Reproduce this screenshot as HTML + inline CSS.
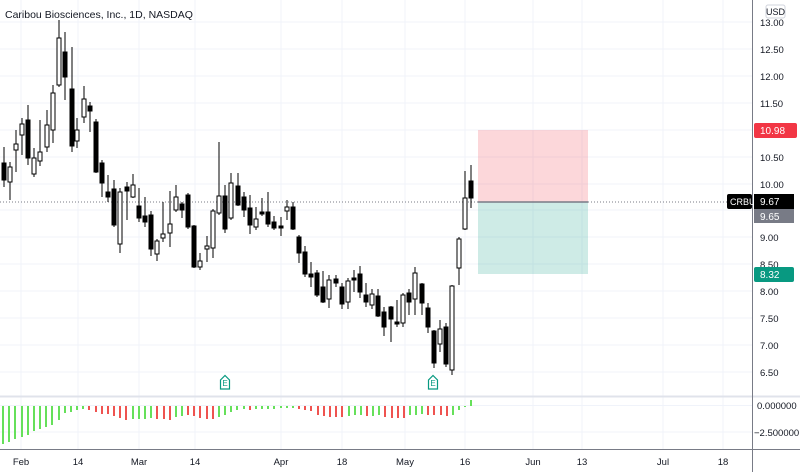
<!DOCTYPE html>
<html><head><meta charset="utf-8"><style>
html,body{margin:0;padding:0;background:#fff;}
svg{display:block;font-family:"Liberation Sans",sans-serif;}
</style></head><body>
<svg width="800" height="472" viewBox="0 0 800 472" xmlns="http://www.w3.org/2000/svg">
<rect width="800" height="472" fill="#fff"/>
<g stroke="#f0f3fa" stroke-width="1">
<line x1="21" y1="0" x2="21" y2="449"/><line x1="78" y1="0" x2="78" y2="449"/><line x1="139" y1="0" x2="139" y2="449"/><line x1="195" y1="0" x2="195" y2="449"/><line x1="281" y1="0" x2="281" y2="449"/><line x1="342" y1="0" x2="342" y2="449"/><line x1="405" y1="0" x2="405" y2="449"/><line x1="465" y1="0" x2="465" y2="449"/><line x1="533" y1="0" x2="533" y2="449"/><line x1="582" y1="0" x2="582" y2="449"/><line x1="663" y1="0" x2="663" y2="449"/><line x1="723" y1="0" x2="723" y2="449"/>
<line x1="0" y1="22" x2="752" y2="22"/><line x1="0" y1="49" x2="752" y2="49"/><line x1="0" y1="76" x2="752" y2="76"/><line x1="0" y1="103" x2="752" y2="103"/><line x1="0" y1="130" x2="752" y2="130"/><line x1="0" y1="157" x2="752" y2="157"/><line x1="0" y1="184" x2="752" y2="184"/><line x1="0" y1="210" x2="752" y2="210"/><line x1="0" y1="237" x2="752" y2="237"/><line x1="0" y1="264" x2="752" y2="264"/><line x1="0" y1="291" x2="752" y2="291"/><line x1="0" y1="318" x2="752" y2="318"/><line x1="0" y1="345" x2="752" y2="345"/><line x1="0" y1="372" x2="752" y2="372"/>
<line x1="0" y1="432" x2="752" y2="432"/>
</g>
<rect x="478" y="130" width="110" height="72" fill="#f23645" fill-opacity="0.2"/>
<rect x="478" y="202" width="110" height="72" fill="#089981" fill-opacity="0.2"/>
<line x1="0" y1="202" x2="752" y2="202" stroke="#787b86" stroke-width="1" stroke-dasharray="1,2"/>
<line x1="478" y1="202" x2="588" y2="202" stroke="#787b86" stroke-width="1.5"/>
<line x1="0" y1="396.5" x2="800" y2="396.5" stroke="#e0e3eb" stroke-width="2"/>
<line x1="0" y1="405.5" x2="752" y2="405.5" stroke="#f0f3fa"/>
<line x1="752.5" y1="0" x2="752.5" y2="472" stroke="#787b86"/>
<line x1="0" y1="449.5" x2="800" y2="449.5" stroke="#787b86"/>
<g stroke="#000" stroke-width="1">
<line x1="4" y1="147" x2="4" y2="187"/><rect x="2" y="163" width="4" height="17" fill="#000"/>
<line x1="10" y1="162" x2="10" y2="200"/><rect x="8" y="167" width="4" height="15" fill="#fff"/>
<line x1="16" y1="130" x2="16" y2="172"/><rect x="14" y="144" width="4" height="6" fill="#fff"/>
<line x1="22" y1="118" x2="22" y2="155"/><rect x="20" y="124" width="4" height="11" fill="#fff"/>
<line x1="28" y1="105" x2="28" y2="165"/><rect x="26" y="120" width="4" height="38" fill="#000"/>
<line x1="34" y1="148" x2="34" y2="177"/><rect x="32" y="158" width="4" height="16" fill="#fff"/>
<line x1="40" y1="120" x2="40" y2="166"/><rect x="38" y="152" width="4" height="9" fill="#fff"/>
<line x1="47" y1="110" x2="47" y2="152"/><rect x="45" y="125" width="4" height="22" fill="#fff"/>
<line x1="53" y1="85" x2="53" y2="143"/><rect x="51" y="93" width="4" height="37" fill="#fff"/>
<line x1="59" y1="20" x2="59" y2="87"/><rect x="57" y="38" width="4" height="47" fill="#fff"/>
<line x1="65" y1="32" x2="65" y2="100"/><rect x="63" y="52" width="4" height="25" fill="#000"/>
<line x1="72" y1="47" x2="72" y2="152"/><rect x="70" y="89" width="4" height="57" fill="#000"/>
<line x1="77" y1="118" x2="77" y2="148"/><rect x="75" y="130" width="4" height="11" fill="#fff"/>
<line x1="84" y1="86" x2="84" y2="123"/><rect x="82" y="99" width="4" height="18" fill="#fff"/>
<line x1="90" y1="102" x2="90" y2="132"/><rect x="88" y="106" width="4" height="5" fill="#000"/>
<line x1="96" y1="119" x2="96" y2="173"/><rect x="94" y="122" width="4" height="50" fill="#000"/>
<line x1="102" y1="160" x2="102" y2="197"/><rect x="100" y="163" width="4" height="20" fill="#000"/>
<line x1="108" y1="175" x2="108" y2="202"/><rect x="106" y="192" width="4" height="5" fill="#000"/>
<line x1="114" y1="180" x2="114" y2="227"/><rect x="112" y="189" width="4" height="36" fill="#000"/>
<line x1="120" y1="188" x2="120" y2="253"/><rect x="118" y="192" width="4" height="52" fill="#fff"/>
<line x1="127" y1="182" x2="127" y2="220"/><rect x="125" y="187" width="4" height="4" fill="#000"/>
<line x1="133" y1="174" x2="133" y2="198"/><rect x="131" y="185" width="4" height="12" fill="#fff"/>
<line x1="139" y1="188" x2="139" y2="222"/><rect x="137" y="206" width="4" height="12" fill="#000"/>
<line x1="145" y1="197" x2="145" y2="227"/><rect x="143" y="216" width="4" height="6" fill="#000"/>
<line x1="151" y1="211" x2="151" y2="256"/><rect x="149" y="215" width="4" height="34" fill="#000"/>
<line x1="157" y1="239" x2="157" y2="261"/><rect x="155" y="241" width="4" height="13" fill="#fff"/>
<line x1="163" y1="202" x2="163" y2="242"/><rect x="161" y="234" width="4" height="4" fill="#fff"/>
<line x1="170" y1="191" x2="170" y2="247"/><rect x="168" y="224" width="4" height="9" fill="#fff"/>
<line x1="176" y1="185" x2="176" y2="212"/><rect x="174" y="197" width="4" height="13" fill="#fff"/>
<line x1="182" y1="202" x2="182" y2="218"/><rect x="180" y="204" width="4" height="6" fill="#000"/>
<line x1="188" y1="193" x2="188" y2="229"/><rect x="186" y="195" width="4" height="32" fill="#000"/>
<line x1="194" y1="225" x2="194" y2="268"/><rect x="192" y="226" width="4" height="41" fill="#000"/>
<line x1="200" y1="253" x2="200" y2="270"/><rect x="198" y="261" width="4" height="6" fill="#fff"/>
<line x1="207" y1="236" x2="207" y2="262"/><rect x="205" y="246" width="4" height="3" fill="#fff"/>
<line x1="213" y1="209" x2="213" y2="258"/><rect x="211" y="211" width="4" height="37" fill="#fff"/>
<line x1="219" y1="142" x2="219" y2="215"/><rect x="217" y="196" width="4" height="17" fill="#fff"/>
<line x1="225" y1="185" x2="225" y2="233"/><rect x="223" y="196" width="4" height="33" fill="#000"/>
<line x1="231" y1="173" x2="231" y2="220"/><rect x="229" y="183" width="4" height="35" fill="#fff"/>
<line x1="238" y1="173" x2="238" y2="206"/><rect x="236" y="186" width="4" height="19" fill="#000"/>
<line x1="244" y1="192" x2="244" y2="217"/><rect x="242" y="197" width="4" height="13" fill="#000"/>
<line x1="250" y1="195" x2="250" y2="234"/><rect x="248" y="208" width="4" height="17" fill="#000"/>
<line x1="256" y1="207" x2="256" y2="230"/><rect x="254" y="219" width="4" height="8" fill="#fff"/>
<line x1="262" y1="198" x2="262" y2="216"/><rect x="260" y="212" width="4" height="2" fill="#000"/>
<line x1="268" y1="192" x2="268" y2="227"/><rect x="266" y="212" width="4" height="12" fill="#000"/>
<line x1="274" y1="216" x2="274" y2="230"/><rect x="272" y="222" width="4" height="6" fill="#000"/>
<line x1="281" y1="217" x2="281" y2="236"/><rect x="279" y="226" width="4" height="2" fill="#000"/>
<line x1="287" y1="200" x2="287" y2="220"/><rect x="285" y="207" width="4" height="4" fill="#fff"/>
<line x1="293" y1="202" x2="293" y2="230"/><rect x="291" y="207" width="4" height="22" fill="#000"/>
<line x1="299" y1="235" x2="299" y2="263"/><rect x="297" y="237" width="4" height="16" fill="#000"/>
<line x1="305" y1="246" x2="305" y2="277"/><rect x="303" y="252" width="4" height="22" fill="#000"/>
<line x1="311" y1="262" x2="311" y2="287"/><rect x="309" y="274" width="4" height="3" fill="#000"/>
<line x1="317" y1="270" x2="317" y2="297"/><rect x="315" y="273" width="4" height="22" fill="#000"/>
<line x1="323" y1="271" x2="323" y2="303"/><rect x="321" y="287" width="4" height="15" fill="#000"/>
<line x1="329" y1="275" x2="329" y2="308"/><rect x="327" y="280" width="4" height="19" fill="#fff"/>
<line x1="336" y1="275" x2="336" y2="287"/><rect x="334" y="279" width="4" height="4" fill="#000"/>
<line x1="342" y1="283" x2="342" y2="309"/><rect x="340" y="287" width="4" height="17" fill="#000"/>
<line x1="348" y1="278" x2="348" y2="309"/><rect x="346" y="281" width="4" height="21" fill="#fff"/>
<line x1="354" y1="270" x2="354" y2="292"/><rect x="352" y="278" width="4" height="2" fill="#000"/>
<line x1="360" y1="266" x2="360" y2="298"/><rect x="358" y="274" width="4" height="18" fill="#000"/>
<line x1="366" y1="283" x2="366" y2="307"/><rect x="364" y="295" width="4" height="7" fill="#000"/>
<line x1="372" y1="289" x2="372" y2="309"/><rect x="370" y="294" width="4" height="11" fill="#fff"/>
<line x1="378" y1="289" x2="378" y2="317"/><rect x="376" y="296" width="4" height="20" fill="#000"/>
<line x1="384" y1="307" x2="384" y2="336"/><rect x="382" y="312" width="4" height="15" fill="#000"/>
<line x1="391" y1="306" x2="391" y2="342"/><rect x="389" y="307" width="4" height="12" fill="#000"/>
<line x1="397" y1="300" x2="397" y2="327"/><rect x="395" y="322" width="4" height="2" fill="#000"/>
<line x1="403" y1="293" x2="403" y2="327"/><rect x="401" y="295" width="4" height="28" fill="#fff"/>
<line x1="409" y1="289" x2="409" y2="315"/><rect x="407" y="293" width="4" height="9" fill="#000"/>
<line x1="415" y1="267" x2="415" y2="315"/><rect x="413" y="273" width="4" height="26" fill="#fff"/>
<line x1="422" y1="283" x2="422" y2="315"/><rect x="420" y="284" width="4" height="19" fill="#000"/>
<line x1="428" y1="303" x2="428" y2="333"/><rect x="426" y="308" width="4" height="19" fill="#000"/>
<line x1="434" y1="330" x2="434" y2="368"/><rect x="432" y="331" width="4" height="32" fill="#000"/>
<line x1="440" y1="320" x2="440" y2="352"/><rect x="438" y="329" width="4" height="15" fill="#fff"/>
<line x1="446" y1="323" x2="446" y2="367"/><rect x="444" y="327" width="4" height="37" fill="#000"/>
<line x1="452" y1="285" x2="452" y2="375"/><rect x="450" y="286" width="4" height="84" fill="#fff"/>
<line x1="459" y1="237" x2="459" y2="285"/><rect x="457" y="239" width="4" height="29" fill="#fff"/>
<line x1="465" y1="171" x2="465" y2="230"/><rect x="463" y="198" width="4" height="31" fill="#fff"/>
<line x1="471" y1="165" x2="471" y2="208"/><rect x="469" y="181" width="4" height="17" fill="#000"/>
</g>
<g fill="#fff" stroke="#089981" stroke-width="1.2">
<path d="M220.5 389 V380 L225 375.5 L229.5 380 V389 Z"/>
<path d="M428.5 389 V380 L433 375.5 L437.5 380 V389 Z"/>
</g>
<g font-size="8" fill="#089981" text-anchor="middle"><text x="225" y="386">E</text><text x="433" y="386">E</text></g>
<g fill="#66e05a">
<rect x="2" y="406" width="2" height="38"/><rect x="8" y="406" width="2" height="36"/><rect x="14" y="406" width="2" height="33"/><rect x="21" y="406" width="2" height="31"/><rect x="27" y="406" width="2" height="29"/><rect x="33" y="406" width="2" height="25"/><rect x="39" y="406" width="2" height="23"/><rect x="45" y="406" width="2" height="21"/><rect x="51" y="406" width="2" height="19"/><rect x="58" y="406" width="2" height="14"/><rect x="64" y="406" width="2" height="7"/><rect x="70" y="406" width="2" height="6"/><rect x="76" y="406" width="2" height="4"/><rect x="82" y="406" width="2" height="3"/>
<rect x="132" y="406" width="2" height="13"/><rect x="138" y="406" width="2" height="13"/><rect x="144" y="406" width="2" height="13"/><rect x="150" y="406" width="2" height="12"/>
<rect x="175" y="406" width="2" height="11"/><rect x="181" y="406" width="2" height="10"/>
<rect x="218" y="406" width="2" height="11"/><rect x="224" y="406" width="2" height="9"/><rect x="230" y="406" width="2" height="6"/><rect x="236" y="406" width="2" height="4"/><rect x="243" y="406" width="2" height="3"/>
<rect x="255" y="406" width="2" height="3"/><rect x="261" y="406" width="2" height="3"/><rect x="267" y="406" width="2" height="3"/><rect x="273" y="406" width="2" height="3"/><rect x="280" y="406" width="2" height="2"/><rect x="286" y="406" width="2" height="2"/><rect x="292" y="406" width="2" height="2"/>
<rect x="348" y="406" width="2" height="10"/><rect x="354" y="406" width="2" height="9"/><rect x="360" y="406" width="2" height="9"/>
<rect x="372" y="406" width="2" height="10"/><rect x="378" y="406" width="2" height="9"/>
<rect x="409" y="406" width="2" height="9"/><rect x="415" y="406" width="2" height="9"/><rect x="421" y="406" width="2" height="8"/>
<rect x="452" y="406" width="2" height="9"/><rect x="458" y="406" width="2" height="4"/><rect x="464" y="406" width="2" height="1"/><rect x="470" y="400" width="2" height="6"/>
</g>
<g fill="#ef5350">
<rect x="88" y="406" width="2" height="4"/><rect x="95" y="406" width="2" height="6"/><rect x="101" y="406" width="2" height="8"/><rect x="107" y="406" width="2" height="8"/><rect x="113" y="406" width="2" height="10"/><rect x="119" y="406" width="2" height="12"/><rect x="125" y="406" width="2" height="14"/>
<rect x="156" y="406" width="2" height="13"/><rect x="163" y="406" width="2" height="13"/><rect x="169" y="406" width="2" height="14"/>
<rect x="187" y="406" width="2" height="9"/><rect x="193" y="406" width="2" height="10"/><rect x="199" y="406" width="2" height="12"/><rect x="206" y="406" width="2" height="13"/><rect x="212" y="406" width="2" height="13"/>
<rect x="249" y="406" width="2" height="4"/>
<rect x="298" y="406" width="2" height="3"/><rect x="304" y="406" width="2" height="4"/><rect x="310" y="406" width="2" height="5"/><rect x="317" y="406" width="2" height="9"/><rect x="323" y="406" width="2" height="10"/><rect x="329" y="406" width="2" height="11"/><rect x="335" y="406" width="2" height="11"/><rect x="341" y="406" width="2" height="11"/>
<rect x="366" y="406" width="2" height="10"/>
<rect x="384" y="406" width="2" height="11"/><rect x="391" y="406" width="2" height="12"/><rect x="397" y="406" width="2" height="12"/><rect x="403" y="406" width="2" height="12"/>
<rect x="427" y="406" width="2" height="9"/><rect x="433" y="406" width="2" height="9"/><rect x="440" y="406" width="2" height="9"/><rect x="446" y="406" width="2" height="10"/>
</g>
<text x="5" y="18" font-size="10.5" fill="#131722">Caribou Biosciences, Inc., 1D, NASDAQ</text>
<g font-size="9.5" fill="#131722">
<text x="760" y="26">13.00</text><text x="760" y="53">12.50</text><text x="760" y="80">12.00</text><text x="760" y="107">11.50</text><text x="760" y="161">10.50</text><text x="760" y="188">10.00</text><text x="760" y="241">9.00</text><text x="760" y="268">8.50</text><text x="760" y="295">8.00</text><text x="760" y="322">7.50</text><text x="760" y="349">7.00</text><text x="760" y="376">6.50</text>
<text x="757" y="409">0.000000</text><text x="754" y="436">−2.500000</text>
</g>
<rect x="766" y="5" width="19" height="13" rx="2" fill="#fff" stroke="#d1d4dc"/>
<text x="775.5" y="15" font-size="9" fill="#131722" text-anchor="middle">USD</text>
<rect x="754" y="123" width="43" height="15" rx="2" fill="#f23645"/>
<text x="760" y="134" font-size="10" fill="#fff">10.98</text>
<rect x="727" y="194" width="25" height="15" rx="2" fill="#000"/>
<text x="730" y="205" font-size="9" fill="#fff">CRBU</text>
<rect x="754" y="194" width="40" height="15" fill="#000"/>
<text x="760" y="205" font-size="10" fill="#fff">9.67</text>
<rect x="754" y="209" width="40" height="14" fill="#787b86"/>
<text x="760" y="220" font-size="10" fill="#fff">9.65</text>
<rect x="754" y="267" width="40" height="15" rx="2" fill="#089981"/>
<text x="760" y="278" font-size="10" fill="#fff">8.32</text>
<g font-size="9.5" fill="#131722" text-anchor="middle">
<text x="21" y="465">Feb</text><text x="78" y="465">14</text><text x="139" y="465">Mar</text><text x="195" y="465">14</text><text x="281" y="465">Apr</text><text x="342" y="465">18</text><text x="405" y="465">May</text><text x="465" y="465">16</text><text x="533" y="465">Jun</text><text x="582" y="465">13</text><text x="663" y="465">Jul</text><text x="723" y="465">18</text>
</g>
</svg>
</body></html>
